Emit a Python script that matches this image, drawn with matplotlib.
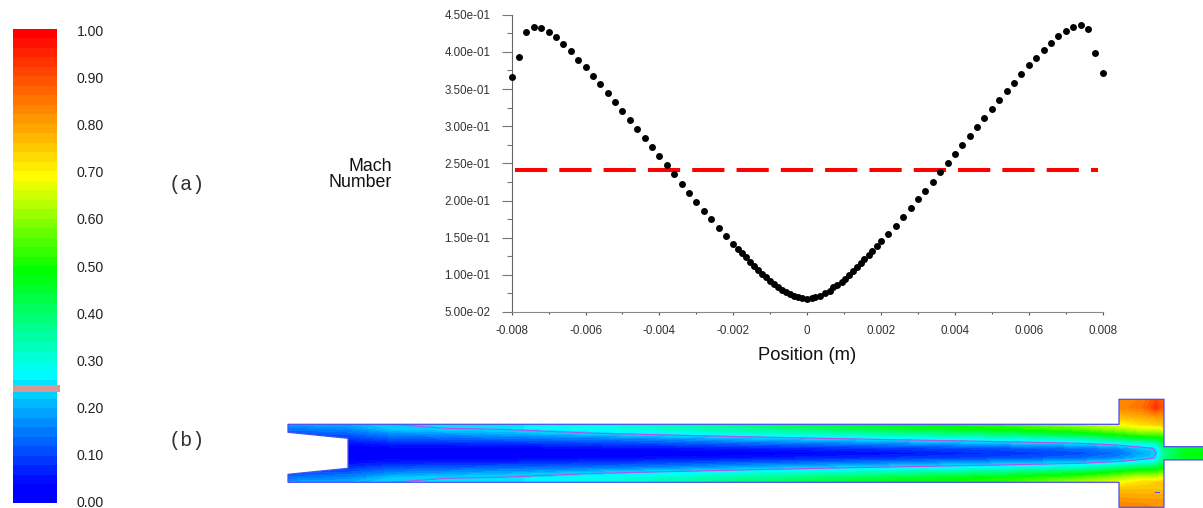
import numpy as np
import matplotlib
matplotlib.use('Agg')
import matplotlib.pyplot as plt
from matplotlib.colors import LinearSegmentedColormap
from matplotlib.patches import Polygon, Rectangle
from matplotlib.ticker import FixedLocator, MultipleLocator, FuncFormatter

W, H = 1203, 508

plt.rcParams['font.family'] = ['Liberation Sans', 'DejaVu Sans']

# mach number across the section
position = [-.0080, -.0078, -.0076, -.0074, -.0072, -.0070, -.0068, -.0066, -.0064, -.0062,
            -.0060, -.0058, -.0056, -.0054, -.0052, -.0050, -.0048, -.0046, -.0044, -.0042,
            -.0040, -.0038, -.0036, -.0034, -.0032, -.0030, -.0028, -.0026, -.0024, -.0022,
            -.0020, -.00188, -.00176, -.00166, -.00155, -.00144, -.00133, -.00122, -.00111,
            -.0010, -.0009, -.00079, -.00068, -.00057, -.00046, -.00035, -.00024, -.00013, 0,
            .00012, .00022, .00035, .00049, .00061, .00071, .00081, .00093, .00102, .00113,
            .00124, .00135, .00145, .00155, .00167, .00176, .00188,
            .0020, .0022, .0024, .0026, .0028, .0030, .0032, .0034, .0036, .0038,
            .0040, .0042, .0044, .0046, .0048, .0050, .0052, .0054, .0056, .0058,
            .0060, .0062, .0064, .0066, .0068, .0070, .0072, .0074, .0076, .0078, .0080]
mach = [.3663, .393, .4263, .4333, .432, .4263, .4194, .41, .4006, .3894,
        .3795, .367, .3562, .3441, .3329, .3208, .3087, .2966, .284, .2719,
        .2598, .2477, .236, .2225, .2104, .1983, .1862, .175, .1633, .1526,
        .1418, .1351, .1297, .1235, .1176, .1123, .1069, .1015, .0966,
        .0917, .0872, .0832, .0796, .0764, .0737, .0715, .0697, .0684, .0675,
        .0688, .0702, .072, .0751, .0782, .0832, .0867, .0908, .0948, .0997,
        .1047, .11, .1154, .1208, .1271, .132, .1387,
        .145, .1553, .166, .1781, .1893, .2014, .2131, .2247, .2382, .25,
        .2624, .2744, .287, .2995, .3116, .3237, .3358, .3479, .3587, .3708,
        .382, .3923, .4026, .4124, .4209, .4281, .4339, .4357, .4304, .399, .3717]
ref_x = [-.00791, .00786]
ref_mach = [.2406, .2406]

# colour bar
bar_stops = [0, .03, .27, .49, .69, 1]
bar_colors = ['#0000ff', '#0000ff', '#00ffff', '#00ff00', '#ffff00', '#ff0000']
bar_ticks = [0, .1, .2, .3, .4, .5, .6, .7, .8, .9, 1]
iso_mach = .24

# contour field: stations along the duct, offset from the centre line
stations = [288, 348, 392, 500, 620, 740, 900, 1000, 1080, 1119, 1140, 1150, 1156, 1164, 1185, 1203]
offsets = [-55, -46, -36, -29, -25, -20, -15, -10, -5, 0, 5, 10, 15, 20, 25, 29, 36, 46, 55]
m_d0  = [.00, .00, .00, .00, .00, .02, .05, .08, .11, .14, .19, .205, .24, .36, .48, .49]
m_d5  = [.02, .02, .03, .03, .05, .06, .09, .11, .14, .17, .22, .235, .245, .38, .46, .46]
m_d10 = [.04, .05, .07, .08, .10, .13, .17, .21, .24, .28, .30, .31, .33, .42, .44, .44]
m_d15 = [.08, .09, .12, .14, .16, .21, .27, .30, .34, .40, .44, .45, .46, .48, .44, .44]
m_d20 = [.12, .13, .17, .20, .25, .30, .36, .40, .46, .52, .56, .56, .56, .58, .44, .44]
m_d25 = [.15, .17, .23, .25, .30, .36, .45, .50, .56, .62, .66, .66, .66, .68, .44, .44]
m_d29 = [.19, .20, .24, .25, .30, .39, .48, .52, .62, .68, .72, .73, .74, .76, .44, .44]
m_up36 = [.19, .20, .24, .25, .30, .39, .48, .52, .62, .76, .78, .79, .80, .80, .44, .44]
m_up46 = [.19, .20, .24, .25, .30, .39, .48, .52, .62, .83, .85, .89, .93, .88, .44, .44]
m_up55 = [.19, .20, .24, .25, .30, .39, .48, .52, .62, .82, .84, .87, .90, .87, .44, .44]
m_lo36 = [.19, .20, .24, .25, .30, .39, .48, .52, .62, .76, .76, .76, .76, .76, .44, .44]
m_lo46 = [.19, .20, .24, .25, .30, .39, .48, .52, .62, .81, .80, .80, .80, .80, .44, .44]
m_lo55 = [.19, .20, .24, .25, .30, .39, .48, .52, .62, .84, .84, .83, .82, .82, .44, .44]

# duct outline, same units as stations / offsets
wall_x = [1203, 1164, 1164, 1119, 1119, 288, 288, 348, 348, 288, 288, 1119, 1119, 1164, 1164, 1203]
wall_y = [-6.6, -6.6, -54, -54, -29, -29, -21, -15, 15, 21, 29, 29, 54, 54, 6.6, 6.6]
flaw_x = [1155, 1159]
flaw_y = [-38.7, -38.7]


def box(left, top, right, bottom):
    return [left / W, 1 - bottom / H, (right - left) / W, (bottom - top) / H]


def label(x, y, s, **kw):
    return fig.text(x / W, 1 - y / H, s, **kw)


fig = plt.figure(figsize=(W / 100, H / 100), dpi=100)

# line plot
ax = fig.add_axes(box(511.67, 14.67, 1102.7, 312))
ax.plot(ref_x, ref_mach, color='#ff0000', lw=2.9, dashes=(8, 3), dash_capstyle='butt', clip_on=False)
ax.plot(position, mach, 'o', color='black', ms=5, mew=0, clip_on=False, zorder=3)
ax.set_xlim(-.008, .008)
ax.set_ylim(.05, .45)
ax.spines['top'].set_visible(False)
ax.spines['right'].set_visible(False)
ax.spines['left'].set_color('#666666')
ax.spines['bottom'].set_color('#888888')
ax.spines['left'].set_linewidth(.8)
ax.spines['bottom'].set_linewidth(.8)
ax.xaxis.set_major_locator(MultipleLocator(.002))
ax.xaxis.set_minor_locator(MultipleLocator(.001))
ax.yaxis.set_major_locator(FixedLocator([.05, .1, .15, .2, .25, .3, .35, .4, .45]))
ax.yaxis.set_minor_locator(FixedLocator([.075, .125, .175, .225, .275, .325, .375, .425]))
ax.xaxis.set_major_formatter(FuncFormatter(lambda v, p: '0' if abs(v) < 1e-9 else '%.3f' % v))
ax.yaxis.set_major_formatter(FuncFormatter(lambda v, p: '%.2e' % v))
ax.tick_params(axis='y', which='major', length=7.2, width=.8, color='#777777', pad=8, labelsize=8.4, labelcolor='#333333')
ax.tick_params(axis='y', which='minor', length=3.6, width=.8, color='#777777')
ax.tick_params(axis='x', which='major', length=2.4, width=.8, color='#555555', pad=7.2, labelsize=8.4, labelcolor='#333333')
ax.tick_params(axis='x', which='minor', length=1.2, width=.8, color='#555555')

label(807, 355, 'Position (m)', fontsize=13.2, ha='center', va='center', color='#111111')
label(392, 170.5, 'Mach', fontsize=12.8, ha='right', va='baseline', color='#111111')
label(392, 187, 'Number', fontsize=12.8, ha='right', va='baseline', color='#111111')
label(187, 185, '(a)', family='Liberation Mono', fontsize=14.5, ha='center', va='center', color='#333333')
label(187, 441, '(b)', family='Liberation Mono', fontsize=14.5, ha='center', va='center', color='#333333')

# colour bar
cmap = LinearSegmentedColormap.from_list('mach', list(zip(bar_stops, bar_colors)), N=50)
cax = fig.add_axes(box(13, 29, 56.5, 503))
cax.imshow(np.linspace(1, 0, 50).reshape(-1, 1), aspect='auto', cmap=cmap, vmin=0, vmax=1,
           extent=[0, 1, -.004, 1.004], interpolation='nearest')
cax.add_patch(Rectangle((0, iso_mach - .008), 1.08, .016, color='#dc9696', lw=0, clip_on=False))
cax.set_xticks([])
cax.yaxis.tick_right()
cax.set_yticks(bar_ticks)
cax.set_yticklabels(['%.2f' % t for t in bar_ticks])
cax.tick_params(axis='y', length=0, pad=14.6, labelsize=10.1, labelcolor='#222222')
for s in cax.spines.values():
    s.set_visible(False)

# contour field
dax = fig.add_axes(box(288, 398.6, 1203, 507.9))
dax.set_xlim(288, 1203)
dax.set_ylim(-54.6, 54.7)
dax.axis('off')
field = np.array([m_lo55, m_lo46, m_lo36, m_d29, m_d25, m_d20, m_d15, m_d10, m_d5, m_d0,
                  m_d5, m_d10, m_d15, m_d20, m_d25, m_d29, m_up36, m_up46, m_up55])
clip = Polygon(np.column_stack([wall_x, wall_y]), closed=True, transform=dax.transData)
filled = dax.contourf(stations, offsets, field, levels=np.linspace(0, 1, 51), cmap=cmap, antialiased=False)
filled.set_clip_path(clip)
iso = dax.contour(stations, offsets, field, levels=[iso_mach], colors='#b450f0', linewidths=.8)
iso.set_clip_path(clip)
dax.plot(wall_x, wall_y, color='#4a50f0', lw=.9, clip_on=False)
dax.plot(flaw_x, flaw_y, color='#4a50f0', lw=.8)

fig.savefig('out.png', dpi=100)
